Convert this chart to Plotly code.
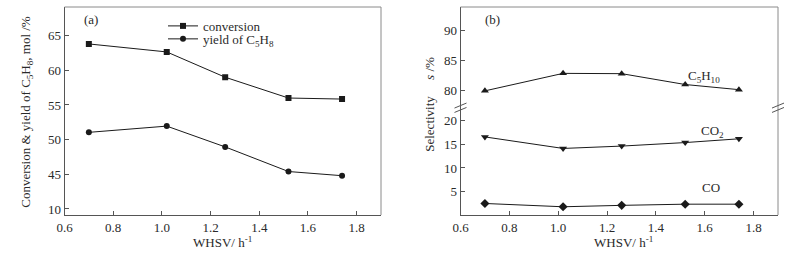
import plotly.graph_objects as go

# ---- data ----
whsv = [0.70, 1.02, 1.26, 1.52, 1.74]
conversion = [63.8, 62.65, 59.0, 56.0, 55.85]
# yield plotted on broken axis: displayed value
yield_c5h8 = [51.05, 51.95, 48.95, 45.4, 44.8]
sel_c5h10 = [80.0, 82.9, 82.85, 81.05, 80.2]
sel_co2 = [16.6, 14.15, 14.65, 15.4, 16.2]
sel_co = [2.45, 1.75, 2.05, 2.3, 2.3]

x_ticks = [0.6, 0.8, 1.0, 1.2, 1.4, 1.6, 1.8]
left_tickvals = [40, 45, 50, 55, 60, 65]
left_ticktext = ["10", "45", "50", "55", "60", "65"]
low_ticks = [5, 10, 15, 20]
up_ticks = [80, 85, 90]

W, H = 794, 255
FONT = "Liberation Serif, Times New Roman, serif"
TXT = "#2a2a2a"
AX = "#555555"
FR = "#8a8a8a"
LN = "#1a1a1a"

# pixel layout
top_px, bot_px = 7, 215.5
mt, mb = top_px, H - bot_px
ph = H - mt - mb
def px(xp):
    return xp / W
def py(yp):
    return (bot_px - yp) / ph

brk = py(108)
ldom = [px(64.5), px(381)]
rdom = [px(460.5), px(778)]

fig = go.Figure()
fig.add_trace(go.Scatter(x=whsv, y=conversion, mode="lines+markers", name="conversion",
                         line=dict(color=LN, width=1), marker=dict(symbol="square", size=6, color=LN),
                         xaxis="x", yaxis="y", legend="legend"))
fig.add_trace(go.Scatter(x=whsv, y=yield_c5h8, mode="lines+markers", name="yield of C<sub>5</sub>H<sub>8</sub>",
                         line=dict(color=LN, width=1), marker=dict(symbol="circle", size=6, color=LN),
                         xaxis="x", yaxis="y", legend="legend2"))
fig.add_trace(go.Scatter(x=whsv, y=sel_c5h10, mode="lines+markers", showlegend=False,
                         line=dict(color=LN, width=1), marker=dict(symbol="triangle-up", size=7, color=LN),
                         xaxis="x2", yaxis="y3"))
fig.add_trace(go.Scatter(x=whsv, y=sel_co2, mode="lines+markers", showlegend=False,
                         line=dict(color=LN, width=1), marker=dict(symbol="triangle-down", size=7, color=LN),
                         xaxis="x2", yaxis="y2"))
fig.add_trace(go.Scatter(x=whsv, y=sel_co, mode="lines+markers", showlegend=False,
                         line=dict(color=LN, width=1), marker=dict(symbol="diamond", size=7, color=LN),
                         xaxis="x2", yaxis="y2"))

tickfont = dict(family=FONT, size=13, color=TXT)
xcommon = dict(range=[0.6, 1.9], tickvals=x_ticks, tickformat=".1f", ticks="inside", ticklen=4,
               tickcolor=AX, showline=True, linecolor=AX, linewidth=1, showgrid=False, zeroline=False,
               tickfont=tickfont, fixedrange=True)
ycommon = dict(ticks="inside", ticklen=4, tickcolor=AX, showline=True, linecolor=AX, linewidth=1,
               showgrid=False, zeroline=False, tickfont=tickfont)

fig.update_layout(
    width=W, height=H,
    margin=dict(l=0, r=0, t=mt, b=mb, autoexpand=False),
    paper_bgcolor="white", plot_bgcolor="white",
    font=dict(family=FONT, size=13, color=TXT),
    xaxis=dict(domain=ldom, anchor="y", **xcommon),
    yaxis=dict(domain=[0, 1], anchor="x", range=[39.13, 69.13], tickvals=left_tickvals,
               ticktext=left_ticktext, **ycommon),
    xaxis2=dict(domain=rdom, anchor="y2", **xcommon),
    yaxis2=dict(domain=[0, brk], anchor="x2", range=[0, 22.8], tickvals=low_ticks, **ycommon),
    yaxis3=dict(domain=[brk, 1], anchor="x2", range=[77.2, 93.9], tickvals=up_ticks, **ycommon),
    legend=dict(x=px(163), y=py(26), xanchor="left", yanchor="middle", bgcolor="rgba(0,0,0,0)",
                itemwidth=30, font=dict(family=FONT, size=13, color=TXT)),
    legend2=dict(x=px(163), y=py(39), xanchor="left", yanchor="middle", bgcolor="rgba(0,0,0,0)",
                 itemwidth=30, font=dict(family=FONT, size=13, color=TXT)),
)

shapes = []
# frames (top and right)
shapes.append(dict(type="line", xref="x domain", yref="paper", x0=0, x1=1, y0=1, y1=1, line=dict(color=FR, width=1)))
shapes.append(dict(type="line", xref="x domain", yref="paper", x0=1, x1=1, y0=0, y1=1, line=dict(color=FR, width=1)))
shapes.append(dict(type="line", xref="x2 domain", yref="paper", x0=0, x1=1, y0=1, y1=1, line=dict(color=FR, width=1)))
shapes.append(dict(type="line", xref="x2 domain", yref="paper", x0=1, x1=1, y0=0, y1=1, line=dict(color=FR, width=1)))
# axis break marks
dx = 6 / (rdom[1] - rdom[0]) / W
dy = 2.5 / ph
for xc in (0, 1):
    for off in (-2.2 / ph, 2.2 / ph):
        shapes.append(dict(type="line", xref="x2 domain", yref="paper",
                           x0=xc - dx, x1=xc + dx, y0=brk + off - dy, y1=brk + off + dy,
                           line=dict(color=AX, width=1)))
fig.update_layout(shapes=shapes)

C = dict(showarrow=False, xanchor="center", yanchor="middle")
ann = []
ann.append(dict(text="(a)", xref="paper", yref="paper", x=px(91), y=py(20), **C))
ann.append(dict(text="(b)", xref="paper", yref="paper", x=px(492), y=py(20), **C))
ann.append(dict(text="C<sub>5</sub>H<sub>10</sub>", xref="x2", yref="y3", x=1.595, y=82.3, **C))
ann.append(dict(text="CO<sub>2</sub>", xref="x2", yref="y2", x=1.63, y=17.8, **C))
ann.append(dict(text="CO", xref="x2", yref="y2", x=1.627, y=5.9, **C))
ann.append(dict(text="WHSV/ h<sup>-1</sup>", xref="paper", yref="paper", x=px(222), y=py(243), **C))
ann.append(dict(text="WHSV/ h<sup>-1</sup>", xref="paper", yref="paper", x=px(623), y=py(243), **C))
ann.append(dict(text="Conversion & yield of C<sub>5</sub>H<sub>8</sub>, mol /%", xref="paper", yref="paper",
                x=px(27), y=py(112), textangle=-90, **C))
ann.append(dict(text="Selectivity\u00a0\u00a0\u00a0\u00a0\u00a0<i>s</i> /%", xref="paper", yref="paper",
                x=px(430), y=py(105), textangle=-90, **C))
fig.update_layout(annotations=ann)

fig.write_html("out.html", config={"displayModeBar": False},
               post_script="document.body.style.margin='0';document.body.style.overflow='hidden';")
